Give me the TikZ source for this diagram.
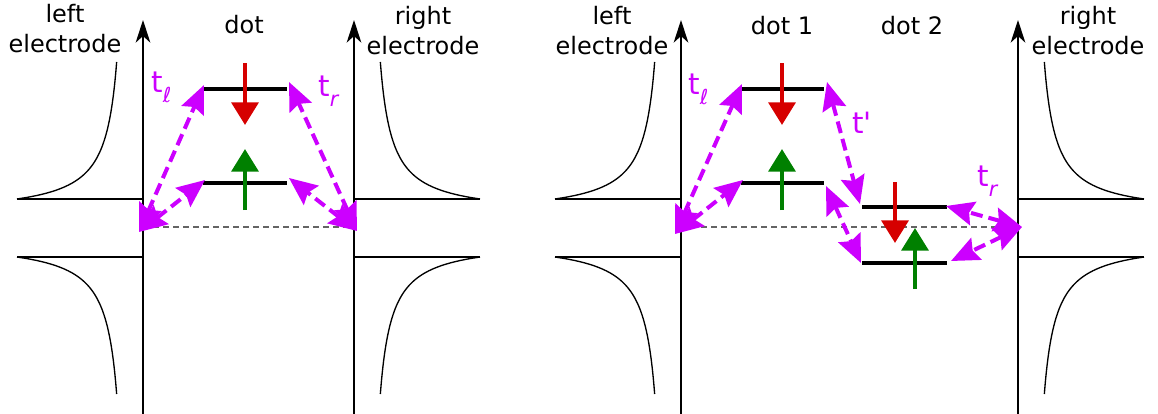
\documentclass[tikz,border=0pt]{standalone}
\usepackage{fontspec}
\setmainfont{DejaVu Sans}
\usetikzlibrary{arrows.meta}
\definecolor{hopc}{RGB}{204,0,255}
\definecolor{upc}{RGB}{0,128,0}
\definecolor{dnc}{RGB}{214,0,0}
\definecolor{fermic}{RGB}{100,100,100}
\newcommand\hopsub[1]{\raisebox{-7.5pt}{\fontsize{15.5}{15.5}\selectfont\itshape #1}}
\begin{document}
\begin{tikzpicture}[x=0.75pt,y=-0.75pt,
  axisline/.style={line width=1.1pt,-{Stealth[length=17pt,width=11pt,inset=5pt]}},
  thinline/.style={line width=1pt},
  level/.style={line width=2.3pt},
  fermi/.style={line width=1.1pt,fermic,dash pattern=on 4.5pt off 3pt},
  hop/.style={hopc,line width=3pt,dash pattern=on 9pt off 4.5pt,{Stealth[length=21pt,width=18pt,inset=3pt]}-{Stealth[length=21pt,width=18pt,inset=3pt]}},
  spin/.style={line width=3.4pt,-{Triangle[length=17pt,width=20pt]}},
  lbl/.style={font=\fontsize{18}{22.5}\selectfont,align=center,inner sep=0pt,anchor=base},
  tlab/.style={hopc,font=\fontsize{22}{24}\selectfont,inner sep=0pt,anchor=base west},
]
\useasboundingbox (0,0) rectangle (1158,414);

% electrodes: band edges, DOS curves, axes
\foreach \ax/\sx in {143/1,354/-1,681/1,1018/-1}{
  \begin{scope}[shift={(\ax,0)},xscale=\sx]
    \draw[thinline] (-126,199) -- (0,199);
    \draw[thinline] (-126,257) -- (0,257);
    \draw[thinline] plot[domain=0:137,samples=80,variable=\u,smooth] ({-14.5-1817/(\u+16.3)},{199-\u});
    \draw[thinline] plot[domain=0:137,samples=80,variable=\u,smooth] ({-14.5-1817/(\u+16.3)},{257+\u});
  \end{scope}
  \draw[axisline] (\ax,414) -- (\ax,20);
}

% Fermi level
\draw[fermi] (143,227) coordinate (fL0) -- (354,227) coordinate (fR0);
\draw[fermi] (681,227) coordinate (fL1) -- (1018,227) coordinate (fR1);

% dot levels
\draw[level] (203,89) coordinate (d0uL) -- (287,89) coordinate (d0uR);
\draw[level] (203,183) coordinate (d0lL) -- (287,183) coordinate (d0lR);
\draw[level] (741,89) coordinate (d1uL) -- (824,89) coordinate (d1uR);
\draw[level] (741,183) coordinate (d1lL) -- (824,183) coordinate (d1lR);
\draw[level] (862,207) coordinate (d2uL) -- (947,207) coordinate (d2uR);
\draw[level] (862,263) coordinate (d2lL) -- (947,263) coordinate (d2lR);

% hopping end points
\coordinate (cL0) at (139,232);
\coordinate (cR0) at (357,231);
\coordinate (a0uL) at (204,85);
\coordinate (a0lL) at (205,180);
\coordinate (a0uR) at (289,82);
\coordinate (a0lR) at (289,178);
\coordinate (cL1) at (675,234);
\coordinate (a1uL) at (742,84);
\coordinate (a1lL) at (743,180);
\coordinate (b1u) at (827,82);
\coordinate (b2u) at (860,204);
\coordinate (b1l) at (826,186);
\coordinate (b2l) at (861,263);
\coordinate (cR1) at (1022,227);
\coordinate (e2u) at (946,206);
\coordinate (e2l) at (951,261);

\draw[hop] (cL0) -- (a0uL);
\draw[hop] (cL0) -- (a0lL);
\draw[hop] (cR0) -- (a0uR);
\draw[hop] (cR0) -- (a0lR);
\draw[hop] (cL1) -- (a1uL);
\draw[hop] (cL1) -- (a1lL);
\draw[hop] (b1u) -- (b2u);
\draw[hop] (b1l) -- (b2l);
\draw[hop] (cR1) -- (e2u);
\draw[hop] (cR1) -- (e2l);

% spins
\coordinate (s0dA) at (245,63);  \coordinate (s0dB) at (245,125);
\coordinate (s0uA) at (245,210); \coordinate (s0uB) at (245,149);
\coordinate (s1dA) at (782,63);  \coordinate (s1dB) at (782,125);
\coordinate (s1uA) at (782,210); \coordinate (s1uB) at (782,149);
\coordinate (s2dA) at (895,182); \coordinate (s2dB) at (895,243);
\coordinate (s2uA) at (915,289); \coordinate (s2uB) at (915,228);
\draw[spin,dnc] (s0dA) -- (s0dB);
\draw[spin,upc] (s0uA) -- (s0uB);
\draw[spin,dnc] (s1dA) -- (s1dB);
\draw[spin,upc] (s1uA) -- (s1uB);
\draw[spin,dnc] (s2dA) -- (s2dB);
\draw[spin,upc] (s2uA) -- (s2uB);

% labels
\node[lbl] (le0) at (65,52) {left\\electrode};
\node[lbl] (re0) at (423,55) {right\\electrode};
\node[lbl] (dot0) at (244,33) {dot};
\node[lbl] (le1) at (612,55) {left\\electrode};
\node[lbl] (dot1) at (782,35) {dot 1};
\node[lbl] (dot2) at (912,35) {dot 2};
\node[lbl] (re1) at (1088,55) {right\\electrode};

\node[tlab] (tl0) at (151,92) {t\hopsub{ℓ}};
\node[tlab] (tr0) at (318,96) {t\hopsub{r}};
\node[tlab] (tl1) at (688,94) {t\hopsub{ℓ}};
\node[tlab] (tp1) at (852,133) {t\textquotesingle};
\node[tlab] (tr1) at (977,186) {t\hopsub{r}};
\end{tikzpicture}
\end{document}
